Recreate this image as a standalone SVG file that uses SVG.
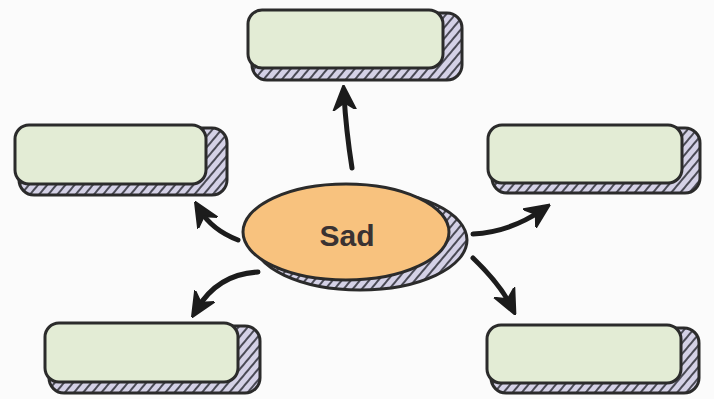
<svg xmlns="http://www.w3.org/2000/svg" width="714" height="399" viewBox="0 0 714 399">
<style>
.sh{fill:url(#hatch);stroke:#2b2b2b;stroke-width:3}
.fr{fill:#e3ecd5;stroke:#2b2b2b;stroke-width:3}
.conn path{fill:none;stroke:#1c1c1c;stroke-width:5;stroke-linecap:round;marker-end:url(#head)}
.lbl{font-family:"Liberation Sans",Arial,sans-serif;font-weight:bold;font-size:30px;fill:#3a3232}
</style>
<defs>
<pattern id="hatch" patternUnits="userSpaceOnUse" width="7" height="7" patternTransform="rotate(40)">
<rect width="7" height="7" fill="#d4d1e6"/>
<rect width="2" height="7" fill="#4a4a55"/>
</pattern>
<marker id="head" viewBox="0 0 20 20" markerWidth="25" markerHeight="25" refX="12" refY="10" orient="auto" markerUnits="userSpaceOnUse">
<path d="M0,1 L20,10 L0,19 L6,10 Z" fill="#1c1c1c" stroke="#1c1c1c" stroke-width="1.5" stroke-linejoin="round"/>
</marker>
</defs>
<rect width="714" height="399" fill="#fbfbfb"/>
<g id="box-top">
<rect class="sh" x="252" y="13" width="210" height="67" rx="15"/>
<rect class="fr" x="248" y="10" width="195" height="58" rx="14"/>
</g>
<g id="box-left">
<rect class="sh" x="19" y="128" width="208" height="67" rx="15"/>
<rect class="fr" x="15" y="125" width="191" height="59" rx="14"/>
</g>
<g id="box-right">
<rect class="sh" x="492" y="128" width="208" height="65" rx="15"/>
<rect class="fr" x="488" y="125" width="194" height="58" rx="14"/>
</g>
<g id="box-bottom-left">
<rect class="sh" x="49" y="326" width="211" height="67" rx="15"/>
<rect class="fr" x="45" y="323" width="193" height="59" rx="14"/>
</g>
<g id="box-bottom-right">
<rect class="sh" x="491" y="328" width="208" height="65" rx="15"/>
<rect class="fr" x="487" y="325" width="194" height="58" rx="14"/>
</g>
<g id="center">
<ellipse class="sh" cx="360" cy="240" rx="107" ry="50"/>
<ellipse cx="346" cy="232" rx="103" ry="48" fill="#f8c27e" stroke="#2b2b2b" stroke-width="3"/>
<text class="lbl" x="347" y="246" text-anchor="middle">Sad</text>
</g>
<g id="connectors" class="conn">
<path d="M352,168 Q346,130 344,95"/>
<path d="M238,240 Q212,230 200,210"/>
<path d="M258,272 Q218,274 197,309"/>
<path d="M473,234 Q510,232 542,210"/>
<path d="M473,258 Q500,284 511,306"/>
</g>
</svg>
